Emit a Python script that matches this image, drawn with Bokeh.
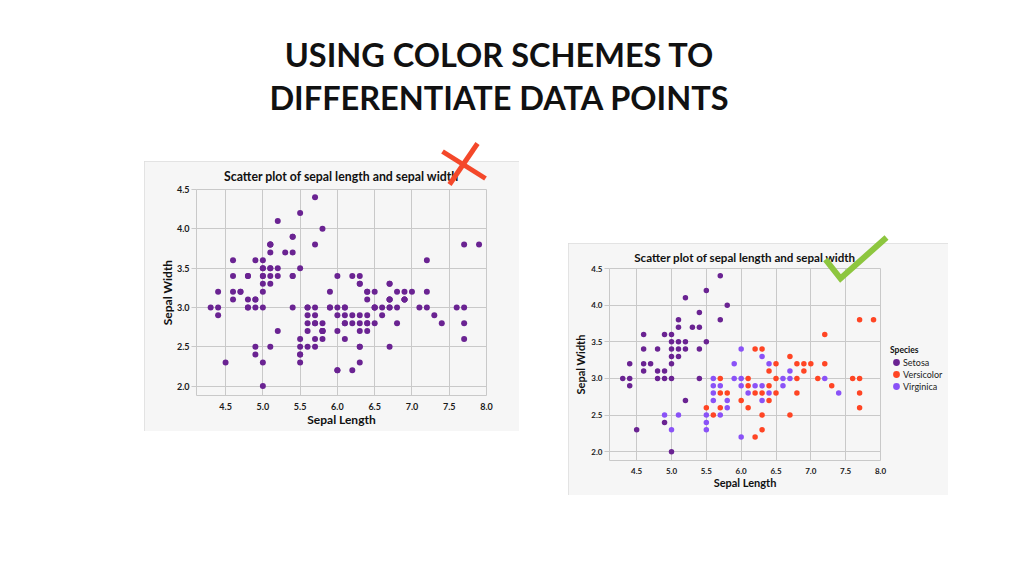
from bokeh.plotting import figure
from bokeh.models import (Range1d, Label, Legend, LegendItem, Spacer,
                          PrintfTickFormatter, FixedTicker)
from bokeh.layouts import column, row
from bokeh.embed import file_html
from bokeh.resources import INLINE

# ---------------- data ----------------
sepal_length = [5.1,4.9,4.7,4.6,5.0,5.4,4.6,5.0,4.4,4.9,5.4,4.8,4.8,4.3,5.8,5.7,5.4,5.1,5.7,5.1,
                5.4,5.1,4.6,5.1,4.8,5.0,5.0,5.2,5.2,4.7,4.8,5.4,5.2,5.5,4.9,5.0,5.5,4.9,4.4,5.1,
                5.0,4.5,4.4,5.0,5.1,4.8,5.1,4.6,5.3,5.0,
                7.0,6.4,6.9,5.5,6.5,5.7,6.3,4.9,6.6,5.2,5.0,5.9,6.0,6.1,5.6,6.7,5.6,5.8,6.2,5.6,
                5.9,6.1,6.3,6.1,6.4,6.6,6.8,6.7,6.0,5.7,5.5,5.5,5.8,6.0,5.4,6.0,6.7,6.3,5.6,5.5,
                5.5,6.1,5.8,5.0,5.6,5.7,5.7,6.2,5.1,5.7,
                6.3,5.8,7.1,6.3,6.5,7.6,4.9,7.3,6.7,7.2,6.5,6.4,6.8,5.7,5.8,6.4,6.5,7.7,7.7,6.0,
                6.9,5.6,7.7,6.3,6.7,7.2,6.2,6.1,6.4,7.2,7.4,7.9,6.4,6.3,6.1,7.7,6.3,6.4,6.0,6.9,
                6.7,6.9,5.8,6.8,6.7,6.7,6.3,6.5,6.2,5.9]
sepal_width = [3.5,3.0,3.2,3.1,3.6,3.9,3.4,3.4,2.9,3.1,3.7,3.4,3.0,3.0,4.0,4.4,3.9,3.5,3.8,3.8,
               3.4,3.7,3.6,3.3,3.4,3.0,3.4,3.5,3.4,3.2,3.1,3.4,4.1,4.2,3.1,3.2,3.5,3.6,3.0,3.4,
               3.5,2.3,3.2,3.5,3.8,3.0,3.8,3.2,3.7,3.3,
               3.2,3.2,3.1,2.3,2.8,2.8,3.3,2.4,2.9,2.7,2.0,3.0,2.2,2.9,2.9,3.1,3.0,2.7,2.2,2.5,
               3.2,2.8,2.5,2.8,2.9,3.0,2.8,3.0,2.9,2.6,2.4,2.4,2.7,2.7,3.0,3.4,3.1,2.3,3.0,2.5,
               2.6,3.0,2.6,2.3,2.7,3.0,2.9,2.9,2.5,2.8,
               3.3,2.7,3.0,2.9,3.0,3.0,2.5,2.9,2.5,3.6,3.2,2.7,3.0,2.5,2.8,3.2,3.0,3.8,2.6,2.2,
               3.2,2.8,2.8,2.7,3.3,3.2,2.8,3.0,2.8,3.0,2.8,3.8,2.8,2.8,2.6,3.0,3.4,3.1,3.0,3.1,
               3.1,3.1,2.7,3.2,3.3,3.0,2.5,3.0,3.4,3.0]

# right chart, points grouped by the colour they have in the picture
setosa_len = [5.1,4.9,4.7,4.6,5.0,5.4,4.6,5.0,4.4,4.9, 5.4,4.8,4.8,4.3,5.8,5.7,5.7,5.1,5.4,5.1,
              4.6,5.1,5.0,5.2,5.2,4.8,5.2,5.5,5.0,5.5, 4.9,4.4,5.1,5.0,4.5,4.4,4.6,5.3,5.0,5.4,
              5.2,4.9,5.0]
setosa_wid = [3.5,3.0,3.2,3.1,3.6,3.9,3.4,3.4,2.9,3.1, 3.7,3.4,3.0,3.0,4.0,4.4,3.8,3.8,3.4,3.7,
              3.6,3.3,3.0,3.5,3.4,3.1,4.1,4.2,3.2,3.5, 3.6,3.0,3.4,3.5,2.3,3.2,3.2,3.7,3.3,3.0,
              2.7,2.4,2.0]
versicolor_len = [5.7,6.2,5.6,6.3,6.4,6.8,5.7,6.0,6.3,5.5, 6.1,5.7,7.0,6.9,6.5,6.1,7.1,6.5,7.6,7.3,
                  6.7,7.2,6.5,6.4,6.8,5.8,7.7,7.7,6.9,7.7, 6.7,7.2,6.2,7.9,6.3,6.1,7.7,6.3,6.4,6.8,
                  6.2]
versicolor_wid = [2.8,2.2,2.5,2.5,2.9,2.8,2.6,2.7,2.3,2.6, 3.0,3.0,3.2,3.1,2.8,2.9,3.0,3.0,3.0,2.9,
                  2.5,3.6,3.2,2.7,3.0,2.8,3.8,2.6,3.2,2.8, 3.3,3.2,2.8,3.8,2.8,2.6,3.0,3.4,3.1,3.2,
                  3.4]
virginica_len = [5.5,6.3,6.6,5.9,6.0,5.6,6.7,5.6,5.8,5.9, 6.1,6.6,6.7,6.0,5.5,6.0,5.5,5.8,5.0,5.6,
                 5.7,6.2,5.1,6.3,4.9,5.7,6.4,5.6,6.3,6.4, 7.2,7.4,6.0]
virginica_wid = [2.3,3.3,2.9,3.0,2.2,2.9,3.1,3.0,2.7,3.2, 2.8,3.0,3.0,2.9,2.4,3.4,2.5,2.6,2.3,2.7,
                 2.9,2.9,2.5,2.9,2.5,2.5,3.2,2.8,2.7,2.8, 3.0,2.8,3.0]

species = ["Setosa", "Versicolor", "Virginica"]
x_ticks = [4.5, 5.0, 5.5, 6.0, 6.5, 7.0, 7.5, 8.0]
y_ticks = [2.0, 2.5, 3.0, 3.5, 4.0, 4.5]
chart_title = "Scatter plot of sepal length and sepal width"
page_title = ["USING COLOR SCHEMES TO", "DIFFERENTIATE DATA POINTS"]

# ---------------- style ----------------
FONT = "Lato"
PURPLE = "#6A2392"
RED = "#FF4524"
LILAC = "#8A52F7"
BOX = "#f6f6f6"
GRID = "#c9c9c9"
BOX_EDGE = {"outline": "1px solid #dcdcdc", "outline-offset": "-1px"}
SPECIES_COLORS = [PURPLE, RED, LILAC]


def make_chart(width, height, mb_left, mb_right, mb_top, mb_bottom,
               title_px, tick_px, axis_px, title_standoff, y_title_standoff):
    p = figure(width=width, height=height, x_range=Range1d(4.11, 8.0), y_range=Range1d(1.88, 4.5),
               output_backend="svg", toolbar_location=None,
               min_border_left=mb_left, min_border_right=mb_right,
               min_border_top=mb_top, min_border_bottom=mb_bottom, styles=BOX_EDGE)
    p.border_fill_color = BOX
    p.background_fill_color = BOX
    p.outline_line_color = GRID
    p.xaxis.ticker = FixedTicker(ticks=x_ticks)
    p.yaxis.ticker = FixedTicker(ticks=y_ticks)
    p.xgrid.ticker = FixedTicker(ticks=x_ticks)
    p.ygrid.ticker = FixedTicker(ticks=y_ticks)
    p.grid.grid_line_color = GRID
    p.axis.formatter = PrintfTickFormatter(format="%.1f")
    p.axis.axis_line_color = None
    p.axis.minor_tick_line_color = None
    p.axis.major_label_text_font = FONT
    p.axis.major_label_text_font_style = "bold"
    p.axis.major_label_text_font_size = tick_px
    p.axis.major_label_text_color = "#1a1a1a"
    p.axis.axis_label_text_font = FONT
    p.axis.axis_label_text_font_style = "bold"
    p.axis.axis_label_text_font_size = axis_px
    p.axis.axis_label_text_color = "#111111"
    p.xaxis.major_tick_line_color = None
    p.xaxis.major_tick_out = 0
    p.xaxis.major_tick_in = 0
    p.xaxis.major_label_standoff = 7
    p.xaxis.axis_label_standoff = -1
    p.yaxis.major_tick_out = 5
    p.yaxis.major_tick_in = 0
    p.yaxis.major_tick_line_color = GRID
    p.yaxis.major_label_standoff = 2
    p.yaxis.axis_label_standoff = y_title_standoff
    p.xaxis.axis_label = "Sepal Length"
    p.yaxis.axis_label = "Sepal Width"
    p.title.text = chart_title
    p.title.align = "center"
    p.title.text_font = FONT
    p.title.text_font_style = "bold"
    p.title.text_font_size = title_px
    p.title.text_color = "#111111"
    p.title.standoff = title_standoff
    return p


def bare(width, height, top, bottom, margin=None):
    # axis-less figure whose data units are page pixels (y grows downward)
    f = figure(width=width, height=height, x_range=Range1d(0, width), y_range=Range1d(bottom, top),
               output_backend="svg", toolbar_location=None, x_axis_type=None, y_axis_type=None,
               min_border=0, margin=margin)
    f.grid.visible = False
    f.outline_line_color = None
    return f


# ---------------- title band ----------------
head = bare(1008, 140, 0, 140)
head.border_fill_color = "white"
head.background_fill_color = "white"
for i, t in enumerate(page_title):
    head.add_layout(Label(x=499, y=54 + 42.5 * i, text=t, text_align="center",
                          text_baseline="middle", text_font=FONT, text_font_size="32.5px",
                          text_font_style="bold", text_color="#111111"))

# ---------------- left chart ----------------
left = make_chart(375, 270, 52, 33, 27, 36, "12.3px", "9px", "12px", 11, -1)
left.scatter(sepal_length, sepal_width, size=6, color=PURPLE, line_color=None)

# ---------------- right chart ----------------
right = make_chart(380, 252, 41, 68, 25, 35, "11.6px", "8px", "11px", 9, 1)
right.scatter(setosa_len, setosa_wid, size=5.5, color=PURPLE, line_color=None)
right.scatter(versicolor_len, versicolor_wid, size=5.5, color=RED, line_color=None)
right.scatter(virginica_len, virginica_wid, size=5.5, color=LILAC, line_color=None)

# ---------------- transparent layer: cross, tick mark, legend ----------------
deco = bare(1008, 260, 140, 400, margin=(-355, 0, 95, 0))
deco.border_fill_alpha = 0
deco.background_fill_alpha = 0
deco.segment(x0=[442, 477], y0=[151, 143], x1=[485, 449], y1=[178, 184],
             line_color="#F4482A", line_width=5)
deco.line(x=[825, 840, 886], y=[259, 278, 237], line_color="#8DC63F", line_width=6,
          line_join="miter")
# legend swatch renderers: a single NaN point each, so only the legend shows them
swatches = [deco.scatter([float("nan")], [float("nan")], size=5, color=c, line_color=c,
                         line_width=2) for c in SPECIES_COLORS]
legend = Legend(items=[LegendItem(label=s, renderers=[r]) for s, r in zip(species, swatches)],
                title="Species", location=(890, 8), orientation="vertical",
                background_fill_alpha=0, border_line_color=None, margin=0, padding=0,
                label_text_font=FONT, label_text_font_size="9px", label_text_color="#222222",
                title_text_font=FONT, title_text_font_size="8.5px", title_text_font_style="bold",
                title_text_color="#111111", title_standoff=1,
                glyph_width=12, glyph_height=12, label_height=12, label_standoff=1, spacing=0)
deco.add_layout(legend)

layout = column(head,
                row(Spacer(width=144, height=10),
                    column(Spacer(width=10, height=21), left),
                    Spacer(width=49, height=10),
                    column(Spacer(width=10, height=103), right)),
                deco)

open("out.html", "w").write(file_html(layout, INLINE))
